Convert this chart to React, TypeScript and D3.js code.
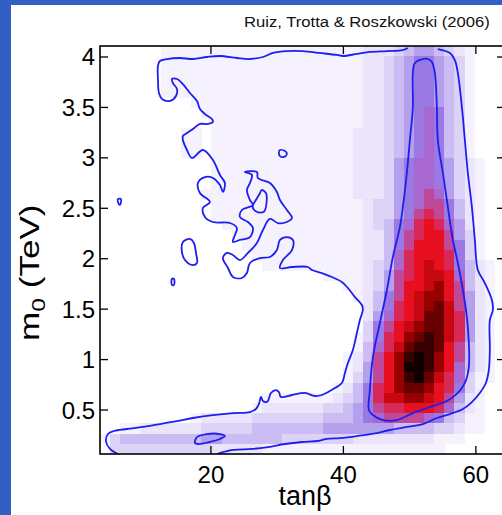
import React from "react";
import * as d3 from "d3";

const W = 502;
const H = 515;

// axis domains (tanβ, m0 in TeV)
const tbDomain: [number, number] = [3.25, 64.4];
const m0Domain: [number, number] = [0.064, 4.109];
const xTicks = [20, 40, 60];
const xTickLabels = ["20", "40", "60"];
const yTicks = [0.5, 1, 1.5, 2, 2.5, 3, 3.5, 4];
const yTickLabels = ["0.5", "1", "1.5", "2", "2.5", "3", "3.5", "4"];

// binned posterior intensity (hex level 0..f), top row = highest m0
const densityRows = [
  "0000001111" + "1111111111" + "1111112223" + "4554321000",
  "0000001111" + "1111111111" + "1111112234" + "5665431000",
  "0000001111" + "1111111111" + "1111112234" + "5665431000",
  "0000001111" + "1111111111" + "1111112234" + "5665431000",
  "0000001111" + "1111111111" + "1111112234" + "5665431000",
  "0000000001" + "1111111111" + "1111112234" + "5665431000",
  "0000000000" + "1111111111" + "1111112234" + "5676431000",
  "0000000000" + "0111111111" + "1111112234" + "5676431000",
  "0000000011" + "0111111111" + "1111122234" + "5676431000",
  "0000000011" + "0111111111" + "1111122234" + "5676431000",
  "0000000011" + "0111111111" + "1111122234" + "5676431000",
  "0000000000" + "0111111111" + "1111122235" + "6776532100",
  "0000000000" + "0111111111" + "1111122235" + "6776532100",
  "0000000000" + "0111111111" + "1111122235" + "6776532100",
  "0000000000" + "1111111111" + "1111122235" + "6787532100",
  "0000000000" + "0111111111" + "1111112335" + "6788642100",
  "0000000000" + "0111111111" + "1111112335" + "6898642100",
  "0000000000" + "0011111111" + "1111112346" + "79a9752100",
  "0000000000" + "0001111111" + "1111112246" + "89aa853100",
  "0000000000" + "0000111111" + "1111112246" + "8aaa863100",
  "0000000000" + "0000011111" + "1111112247" + "9aaa963100",
  "0000000000" + "0000001111" + "1111112347" + "9aba964210",
  "0000000000" + "0000000000" + "0011112358" + "9abba74210",
  "0000000000" + "0000000000" + "0000112358" + "aabca84210",
  "0000000000" + "0000000000" + "0000012468" + "abcca85210",
  "0000000000" + "0000000000" + "0000002469" + "abcdb85210",
  "0000000000" + "0000000000" + "0000002579" + "abddb95210",
  "0000000000" + "0000000000" + "000000368a" + "bcddb95210",
  "0000000000" + "0000000000" + "000001369a" + "cdedb95210",
  "0000000000" + "0000000000" + "000001479b" + "deeda84210",
  "0000000000" + "0000000000" + "00001248ac" + "efeca84210",
  "0000000000" + "0000000000" + "00001258ac" + "ffeca74210",
  "0000000000" + "0000000000" + "00001358ac" + "efdb973110",
  "0000000000" + "0000000000" + "00012469ac" + "ddca963100",
  "0000000000" + "0000001111" + "11123469bb" + "ccba852100",
  "0000000000" + "0000012222" + "2233456899" + "aaa9742100",
  "0000000001" + "2222233333" + "3344456788" + "8876431100",
  "0011222222" + "3333344444" + "4455555554" + "4443321100",
  "1344444444" + "5544444433" + "3333322222" + "2221110000",
  "0333333333" + "3222221111" + "1111111111" + "1111000000",
];

const levelColors = [
  "#ffffff", "#f5f2fe", "#ebe5fb", "#ddd3f7", "#cbbdf3", "#b4a0ec",
  "#9a7ae2", "#a868d0", "#c04898", "#d82858", "#e81020", "#c80810",
  "#980000", "#680000", "#380000", "#100000",
];

type P = [number, number];

// outer (lower) credible contour: from bottom edge, up the hole boundary, to top edge
const outerContourA: P[] = [
  [5.96, 0.064], [4.75, 0.114], [4.15, 0.193], [4.45, 0.262], [5.36, 0.292], [7.32, 0.312],
  [9.74, 0.332], [12.3, 0.361], [14.87, 0.391], [17.28, 0.421], [20.3, 0.45], [23.32, 0.47],
  [25.89, 0.48], [26.79, 0.51], [27.25, 0.56], [27.55, 0.629], [27.85, 0.589], [28.3, 0.579],
  [28.6, 0.589], [29.06, 0.669], [29.81, 0.698], [30.26, 0.679], [30.57, 0.629], [32.23, 0.649],
  [34.19, 0.669], [35.7, 0.639], [36.75, 0.649], [38.72, 0.718], [39.77, 0.768], [40.23, 0.867],
  [40.68, 0.966], [41.43, 1.095], [42.04, 1.264], [42.49, 1.392], [42.94, 1.492], [42.79, 1.541],
  [41.74, 1.62], [40.68, 1.71], [39.77, 1.769], [38.26, 1.819], [36.75, 1.858], [35.25, 1.888],
  [34.64, 1.918], [32.23, 1.918], [30.42, 1.908], [30.87, 1.987], [32.23, 2.086], [32.38, 2.186],
  [31.47, 2.215], [30.42, 2.186], [29.96, 2.086], [28.91, 2.017], [27.4, 2.007], [25.89, 1.958],
  [25.43, 1.858], [24.68, 1.809], [23.32, 1.819], [22.57, 1.908], [21.81, 2.007], [22.42, 2.057],
  [23.32, 2.037], [24.38, 1.987], [25.58, 2.057], [26.94, 2.156], [27.85, 2.285], [28.91, 2.394],
  [30.11, 2.354], [31.47, 2.364], [32.23, 2.404], [31.47, 2.483], [30.42, 2.582], [29.96, 2.662],
  [28.91, 2.751], [27.09, 2.8], [26.94, 2.86], [25.13, 2.86], [26.19, 2.83], [25.89, 2.751],
  [25.43, 2.681], [25.89, 2.582], [26.34, 2.533], [24.68, 2.483], [24.38, 2.414], [25.58, 2.364],
  [26.34, 2.305], [25.89, 2.215], [24.38, 2.186], [23.32, 2.166], [23.62, 2.235], [23.92, 2.305],
  [22.87, 2.354], [20.3, 2.364], [19.09, 2.414], [18.79, 2.503], [19.85, 2.562], [18.34, 2.652],
  [18.04, 2.751], [19.09, 2.81], [20.3, 2.8], [21.36, 2.731], [21.81, 2.662], [22.11, 2.751],
  [21.36, 2.83], [20.3, 2.979], [18.79, 3.078], [17.13, 2.999], [16.38, 3.078], [15.77, 3.177],
  [15.77, 3.217], [16.38, 3.246], [17.28, 3.286], [18.34, 3.336], [19.55, 3.336], [20.3, 3.356],
  [20.15, 3.385], [19.09, 3.435], [18.34, 3.484], [17.89, 3.564], [16.83, 3.643], [15.77, 3.732],
  [14.87, 3.782], [14.11, 3.782], [14.26, 3.742], [14.87, 3.683], [14.72, 3.613], [13.81, 3.564],
  [12.6, 3.584], [12.15, 3.643], [12.0, 3.782], [12.0, 3.911], [12.3, 3.96], [13.36, 3.98],
  [15.32, 3.99], [17.28, 3.98], [19.4, 4.0], [21.36, 4.01], [23.92, 3.99], [25.89, 3.98],
  [27.85, 4.0], [29.36, 4.04], [31.47, 4.059], [33.89, 4.059], [36.45, 4.04], [39.02, 4.02],
  [39.92, 4.01], [42.04, 4.03], [44.0, 4.05], [46.57, 4.059], [48.98, 4.069], [49.74, 4.089],
];

// outer contour: right side of the ridge and lower edge of the band
const outerContourB: P[] = [
  [54.26, 4.079], [56.08, 4.04], [56.83, 3.97], [57.28, 3.841], [57.89, 3.504], [58.34, 3.177],
  [58.79, 2.85], [59.4, 2.513], [59.85, 2.186], [60.3, 1.888], [61.36, 1.759], [62.42, 1.591],
  [62.57, 1.492], [62.11, 1.392], [62.11, 1.095], [61.96, 0.897], [61.51, 0.768], [60.6, 0.669],
  [59.4, 0.579], [58.04, 0.51], [56.08, 0.46], [54.11, 0.421], [52.0, 0.361], [49.58, 0.332],
  [47.02, 0.302], [45.06, 0.272], [42.04, 0.242], [39.47, 0.222], [37.51, 0.213], [36.15, 0.193],
  [33.74, 0.183], [31.17, 0.163], [28.6, 0.133], [26.19, 0.114], [23.32, 0.104], [20.91, 0.064],
];

// inner credible contour around the main ridge
const innerContour: P[] = [
  [52.0, 3.98], [50.79, 3.941], [50.49, 3.841], [50.49, 3.504], [50.04, 3.177], [49.58, 2.85],
  [48.98, 2.513], [48.53, 2.314], [47.47, 2.017], [46.57, 1.69], [45.51, 1.363], [44.45, 1.025],
  [44.0, 0.698], [43.85, 0.5], [44.45, 0.45], [45.96, 0.401], [48.08, 0.401], [50.49, 0.47],
  [53.06, 0.53], [55.62, 0.589], [57.28, 0.669], [58.34, 0.768], [58.94, 0.926], [58.94, 1.164],
  [58.64, 1.422], [58.04, 1.69], [57.28, 1.958], [56.53, 2.186], [55.77, 2.513], [55.02, 2.85],
  [54.26, 3.177], [54.11, 3.504], [53.81, 3.841], [53.36, 3.95], [52.75, 3.98],
];

// small closed islands
const islandLowBand: P[] = [
  [17.58, 0.173], [17.89, 0.232], [19.4, 0.262], [21.36, 0.262], [22.11, 0.242], [21.36, 0.213],
  [19.85, 0.183], [18.04, 0.163],
];
const islandTopRight: P[] = [
  [30.42, 3.078], [31.17, 3.068], [31.47, 3.038], [31.02, 3.009], [30.42, 3.018], [30.26, 3.058],
];
const islandLeft: P[] = [
  [15.77, 2.166], [16.83, 2.196], [17.43, 2.156], [17.74, 2.057], [17.89, 1.958], [17.13, 1.938],
  [16.08, 1.987], [15.62, 2.067],
];
const islandMiddle: P[] = [
  [27.65, 2.681], [28.3, 2.652], [28.41, 2.565], [28.0, 2.466], [26.9, 2.466], [26.29, 2.516],
  [26.79, 2.582], [27.4, 2.649],
];
const islandTinyA: P[] = [[5.96, 2.592], [6.42, 2.592], [6.42, 2.562], [6.25, 2.533], [5.96, 2.562]];
const islandTinyB: P[] = [[14.11, 1.799], [14.42, 1.799], [14.42, 1.74], [14.11, 1.74]];

const openContours = [outerContourA, outerContourB];
const closedContours = [innerContour, islandLowBand, islandTopRight, islandLeft, islandMiddle, islandTinyA, islandTinyB];

const PL = 100, PR = 505, PT = 46, PB = 454;
const FONT = "'Liberation Sans', Arial, Helvetica, sans-serif";

export default function App() {
  const x = d3.scaleLinear().domain(tbDomain).range([PL, PR]);
  const y = d3.scaleLinear().domain(m0Domain).range([PB, PT]);

  const nRows = densityRows.length;
  const nCols = densityRows[0].length;
  const tStep = (tbDomain[1] - tbDomain[0]) / nCols;
  const mStep = (m0Domain[1] - m0Domain[0]) / nRows;

  const cells: React.ReactElement[] = [];
  densityRows.forEach((row, i) => {
    for (let j = 0; j < nCols; j++) {
      const lev = parseInt(row[j], 16);
      if (!lev) continue;
      const t0 = tbDomain[0] + j * tStep;
      const t1 = t0 + tStep;
      const m1 = m0Domain[1] - i * mStep;
      const m0 = m1 - mStep;
      cells.push(
        <rect
          key={`${i}-${j}`}
          x={x(t0)}
          y={y(m1)}
          width={x(t1) - x(t0) + 0.6}
          height={y(m0) - y(m1) + 0.6}
          fill={levelColors[lev]}
        />
      );
    }
  });

  const openLine = d3
    .line<P>()
    .x((d) => x(d[0]))
    .y((d) => y(d[1]))
    .curve(d3.curveCatmullRom.alpha(0.5));
  const closedLine = d3
    .line<P>()
    .x((d) => x(d[0]))
    .y((d) => y(d[1]))
    .curve(d3.curveCatmullRomClosed.alpha(0.5));

  const tick = 8;
  const contourColor = "#1e1ef0";

  return (
    <svg
      width={W}
      height={H}
      style={{ position: "fixed", left: 0, top: 0, display: "block" }}
      fontFamily={FONT}
    >
      <defs>
        <clipPath id="plotClip">
          <rect x={PL} y={PT} width={PR - PL} height={PB - PT} />
        </clipPath>
      </defs>
      <rect x={0} y={0} width={W} height={H} fill="#325fc3" />
      <rect x={11} y={5} width={W - 11} height={H - 5} fill="#ffffff" />

      <text x={0} y={0} fontSize={15} fill="#111" transform="translate(244,27) scale(1.11,1)">
        Ruiz, Trotta &amp; Roszkowski (2006)
      </text>

      <g clipPath="url(#plotClip)" shapeRendering="crispEdges">{cells}</g>

      <g clipPath="url(#plotClip)" fill="none" stroke={contourColor} strokeWidth={1.8} strokeLinejoin="round">
        {openContours.map((c, k) => (
          <path key={`o${k}`} d={openLine(c) || ""} />
        ))}
        {closedContours.map((c, k) => (
          <path key={`c${k}`} d={closedLine(c) || ""} />
        ))}
      </g>

      {/* frame */}
      <rect x={PL} y={PT} width={PR - PL} height={PB - PT} fill="none" stroke="#000" strokeWidth={1.6} />

      {xTicks.map((t) => (
        <g key={`xt${t}`} stroke="#000" strokeWidth={1.3}>
          <line x1={x(t)} x2={x(t)} y1={PB} y2={PB - tick} />
          <line x1={x(t)} x2={x(t)} y1={PT} y2={PT + tick} />
        </g>
      ))}
      {yTicks.map((m) => (
        <g key={`yt${m}`} stroke="#000" strokeWidth={1.3}>
          <line x1={PL} x2={PL + tick} y1={y(m)} y2={y(m)} />
          <line x1={PR} x2={PR - tick} y1={y(m)} y2={y(m)} />
        </g>
      ))}

      {xTicks.map((t, k) => (
        <text key={`xl${t}`} x={x(t)} y={483} fontSize={24} textAnchor="middle" fill="#000">
          {xTickLabels[k]}
        </text>
      ))}
      {yTicks.map((m, k) => (
        <text key={`yl${m}`} x={95} y={y(m) + 8.5} fontSize={24} textAnchor="end" fill="#000">
          {yTickLabels[k]}
        </text>
      ))}

      <text x={305} y={505} fontSize={27} textAnchor="middle" fill="#000">
        tanβ
      </text>

      <text x={0} y={0} transform="translate(39,341) rotate(-90) scale(1.3,1)" fontSize={27} fill="#000">
        m
        <tspan fontSize={19} dy={6}>0</tspan>
        <tspan dy={-6}> (TeV)</tspan>
      </text>
    </svg>
  );
}
